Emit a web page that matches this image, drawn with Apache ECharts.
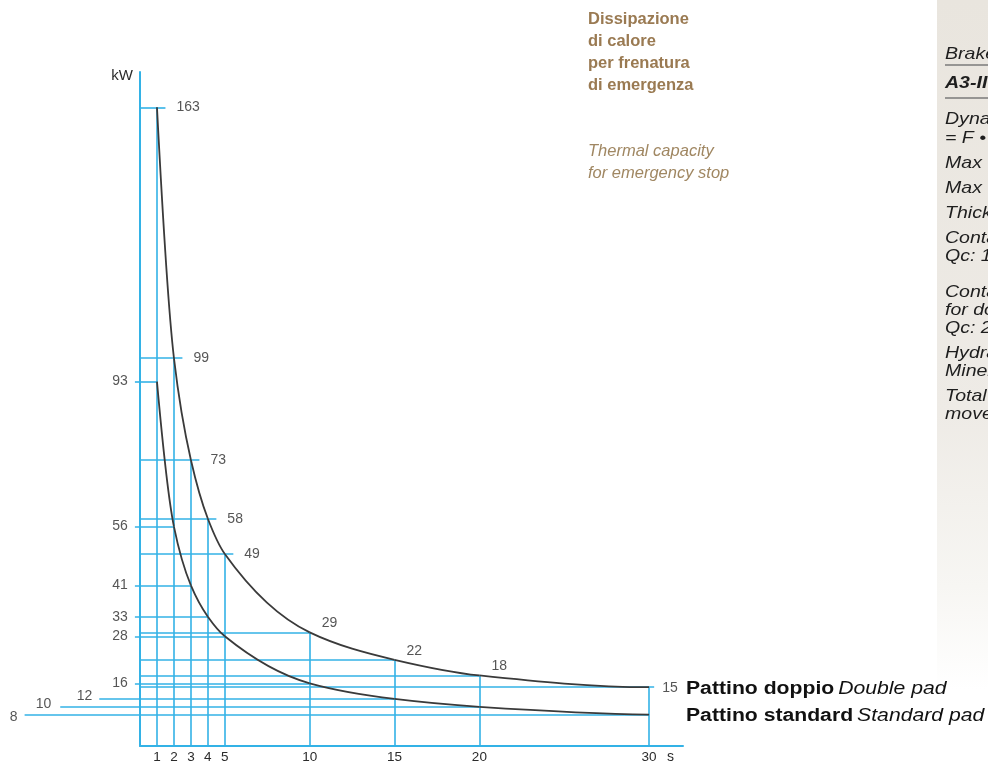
<!DOCTYPE html>
<html>
<head>
<meta charset="utf-8">
<script src="https://cdn.jsdelivr.net/npm/echarts@6/dist/echarts.min.js"></script>
<style>
html,body{margin:0;padding:0;background:#fff;}
#c{width:988px;height:767px;}
</style>
</head>
<body>
<div id="c"></div>
<script>
// ---- data ----
const xTicks = [1, 2, 3, 4, 5, 10, 15, 20, 30];           // stop time (s)
const doublePad = [163, 99, 73, 58, 49, 29, 22, 18, 15];   // kW, Pattino doppio
const standardPad = [93, 56, 41, 33, 28, 16, 12, 10, 8];   // kW, Pattino standard
const titleIt = ['Dissipazione', 'di calore', 'per frenatura', 'di emergenza'];
const titleEn = ['Thermal capacity', 'for emergency stop'];
const panelLines = ['Brake', 'A3-II', 'Dynamic', '= F \u2022', 'Max', 'Max', 'Thickness', 'Contact', 'Qc: 1', 'Contact', 'for double', 'Qc: 2', 'Hydraulic', 'Mineral', 'Total', 'movement'];

// ---- styles ----
const BLUE = '#33b2e6';
const CURVE = '#3a3a3a';
const TXT = '#2b2b2b';
const FONT = '"Liberation Sans", Arial, sans-serif';

// guide lines
const segs = [];
xTicks.forEach((x, i) => {
  const up = doublePad[i], lo = standardPad[i];
  segs.push({coords: [[x, 0], [x, up]]});
  const ext = x <= 5 ? 0.5 : (x === 30 ? 0.3 : 0);
  segs.push({coords: [[0, up], [x + ext, up]]});
  let start = -0.3;
  if (x === 15) start = -2.4;
  if (x === 20) start = -4.7;
  if (x === 30) start = -6.8;
  segs.push({coords: [[start, lo], [x, lo]]});
});

// label anchors
const upLabels = xTicks.map((x, i) => {
  if (x <= 5) return {value: [x + 0.5, doublePad[i]], label: {position: 'right', distance: 11, offset: [0, 0]}};
  if (x === 30) return {value: [x + 0.3, doublePad[i]], label: {position: 'right', distance: 8, offset: [0, 1]}};
  return {value: [x, doublePad[i]], label: {position: 'right', distance: 10, offset: [2, -9]}};
});
const loLabels = xTicks.map((x, i) => {
  let start = -0.3, off = [0, 0];
  if (x === 15) { start = -2.4; off = [0, -3]; }
  if (x === 20) { start = -4.7; off = [-2, -3]; }
  if (x === 30) { start = -6.8; off = [0, 2]; }
  return {value: [start, standardPad[i]], label: {position: 'left', distance: 7, offset: off}};
});

// monotone (PCHIP) tangents in data space
function pchipSlopes(xs, ys) {
  const n = xs.length, h = [], d = [], m = new Array(n);
  for (let i = 0; i < n - 1; i++) { h.push(xs[i + 1] - xs[i]); d.push((ys[i + 1] - ys[i]) / h[i]); }
  for (let k = 1; k < n - 1; k++) {
    if (d[k - 1] * d[k] <= 0) { m[k] = 0; continue; }
    const w1 = 2 * h[k] + h[k - 1], w2 = h[k] + 2 * h[k - 1];
    m[k] = (w1 + w2) / (w1 / d[k - 1] + w2 / d[k]);
  }
  const end = (h0, h1, d0, d1) => {
    let v = ((2 * h0 + h1) * d0 - h0 * d1) / (h0 + h1);
    if (v * d0 <= 0) v = 0; else if (d0 * d1 <= 0 && Math.abs(v) > Math.abs(3 * d0)) v = 3 * d0;
    return v;
  };
  m[0] = end(h[0], h[1], d[0], d[1]);
  m[n - 1] = end(h[n - 2], h[n - 3], d[n - 2], d[n - 3]);
  return m;
}

function curveRenderer(ys) {
  return function (params, api) {
    if (params.dataIndex !== 0) return null;
    const m = pchipSlopes(xTicks, ys);
    const children = [];
    for (let i = 0; i < xTicks.length - 1; i++) {
      const x0 = xTicks[i], x1 = xTicks[i + 1], y0 = ys[i], y1 = ys[i + 1], hh = x1 - x0;
      const p0 = api.coord([x0, y0]);
      const c1 = api.coord([x0 + hh / 3, y0 + m[i] * hh / 3]);
      const c2 = api.coord([x1 - hh / 3, y1 - m[i + 1] * hh / 3]);
      const p1 = api.coord([x1, y1]);
      children.push({
        type: 'bezierCurve',
        shape: {x1: p0[0], y1: p0[1], cpx1: c1[0], cpy1: c1[1], cpx2: c2[0], cpy2: c2[1], x2: p1[0], y2: p1[1]},
        style: {stroke: CURVE, lineWidth: 1.8, fill: null}
      });
    }
    return {type: 'group', children: children};
  };
}

const graphic = [];
graphic.push({
  type: 'rect', left: 937, top: 0, silent: true,
  shape: {width: 51, height: 690},
  style: {fill: new echarts.graphic.LinearGradient(0, 0, 0, 1, [
    {offset: 0, color: '#e9e5de'}, {offset: 0.6, color: '#eeebe6'}, {offset: 0.85, color: '#f7f6f3'}, {offset: 1, color: '#ffffff'}])}
});
graphic.push({type: 'line', silent: true, shape: {x1: 945, y1: 65, x2: 988, y2: 65}, style: {stroke: '#7a7a7a', lineWidth: 1.5}});
graphic.push({type: 'line', silent: true, shape: {x1: 945, y1: 98, x2: 988, y2: 98}, style: {stroke: '#7a7a7a', lineWidth: 1.5}});
const panelY = [54, 83, 119, 138, 163, 188, 213, 238, 256, 292, 310, 328, 353, 371, 396, 414];
panelLines.forEach((t, i) => {
  graphic.push({type: 'text', x: 945, y: panelY[i], scaleX: 1.15, silent: true,
    style: {text: t, font: (i === 1 ? 'italic bold ' : 'italic ') + '17px ' + FONT, fill: '#1e1e1e', verticalAlign: 'middle'}});
});
titleIt.forEach((t, i) => {
  graphic.push({type: 'text', x: 588, y: 19 + i * 22, silent: true,
    style: {text: t, font: 'bold 16.5px ' + FONT, fill: '#9a7a52', verticalAlign: 'middle'}});
});
titleEn.forEach((t, i) => {
  graphic.push({type: 'text', x: 588, y: 151 + i * 22, silent: true,
    style: {text: t, font: 'italic 16.5px ' + FONT, fill: '#a08762', verticalAlign: 'middle'}});
});
[['Pattino doppio', 'Double pad', 689], ['Pattino standard', 'Standard pad', 716]].forEach(r => {
  graphic.push({type: 'text', x: 686, y: r[2], scaleX: 1.21, silent: true,
    style: {text: '{b|' + r[0] + '} {i|' + r[1] + '}', verticalAlign: 'middle',
      rich: {b: {font: 'bold 17.5px ' + FONT, fill: '#111'}, i: {font: 'italic 17.5px ' + FONT, fill: '#111'}}}});
});

const labelStyle = {color: TXT, fontSize: 14, fontFamily: FONT};

const option = {
  animation: false,
  backgroundColor: '#ffffff',
  grid: {left: 140, right: 305, top: 72, bottom: 21, containLabel: false},
  xAxis: {
    type: 'value', min: 0, max: 32,
    name: 's', nameLocation: 'end', nameGap: -16,
    nameTextStyle: {color: TXT, fontSize: 14, fontFamily: FONT, verticalAlign: 'top', padding: [4, 0, 0, 0]},
    axisLine: {lineStyle: {color: BLUE, width: 2}},
    axisTick: {show: false},
    splitLine: {show: false},
    axisLabel: {customValues: xTicks, color: TXT, fontSize: 13.5, fontFamily: FONT, margin: 4}
  },
  yAxis: {
    type: 'value', min: 0, max: 172,
    name: 'kW', nameLocation: 'end', nameGap: -4,
    nameTextStyle: {color: TXT, fontSize: 15, fontFamily: FONT, align: 'right', verticalAlign: 'middle', padding: [0, 7, 0, 0]},
    axisLine: {show: true, lineStyle: {color: BLUE, width: 2}},
    axisTick: {show: false},
    splitLine: {show: false},
    axisLabel: {show: false}
  },
  graphic: graphic,
  series: [
    {
      type: 'lines', coordinateSystem: 'cartesian2d', clip: false, silent: true,
      lineStyle: {color: BLUE, width: 1.6, opacity: 1},
      data: segs, z: 1
    },
    {
      name: 'Pattino doppio', type: 'custom', coordinateSystem: 'cartesian2d', silent: true,
      renderItem: curveRenderer(doublePad),
      data: xTicks.map((x, i) => [x, doublePad[i]]), z: 3
    },
    {
      name: 'Pattino standard', type: 'custom', coordinateSystem: 'cartesian2d', silent: true,
      renderItem: curveRenderer(standardPad),
      data: xTicks.map((x, i) => [x, standardPad[i]]), z: 3
    },
    {
      type: 'scatter', symbolSize: 0, clip: false, silent: true,
      label: Object.assign({show: true, formatter: p => String(p.value[1])}, labelStyle),
      data: upLabels, z: 4
    },
    {
      type: 'scatter', symbolSize: 0, clip: false, silent: true,
      label: Object.assign({show: true, formatter: p => String(p.value[1])}, labelStyle),
      data: loLabels, z: 4
    }
  ]
};

const chart = echarts.init(document.getElementById('c'), null, {renderer: 'canvas'});
chart.setOption(option);
</script>
</body>
</html>
